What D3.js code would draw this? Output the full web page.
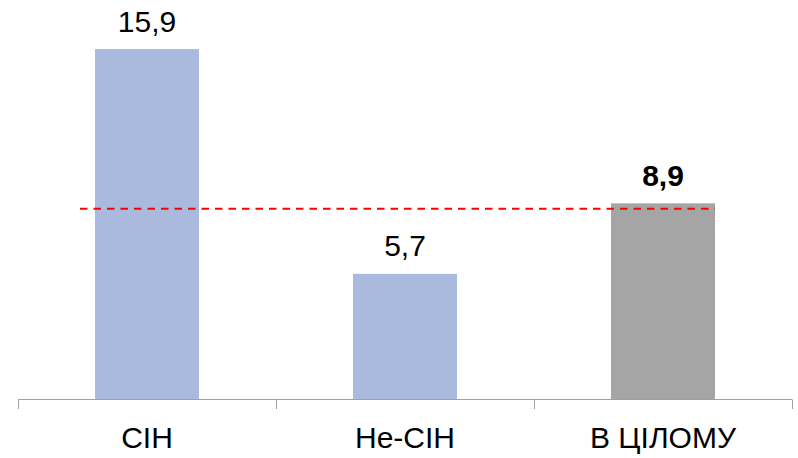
<!DOCTYPE html>
<html>
<head>
<meta charset="utf-8">
<script src="https://cdn.jsdelivr.net/npm/d3@7"></script>
<style>
  html, body { margin: 0; padding: 0; background: #fff; }
  svg { display: block; }
</style>
</head>
<body>
<div id="chart"></div>
<script>
const categories = ["СІН", "Не-СІН", "В ЦІЛОМУ"];
const values = [15.9, 5.7, 8.9];
const valueLabels = ["15,9", "5,7", "8,9"];
const referenceValue = 8.65;

const W = 798, H = 458;
const svg = d3.select("#chart").append("svg").attr("width", W).attr("height", H);

const x = d3.scaleBand().domain(categories).range([18, 792]).paddingInner(0).paddingOuter(0);
const barW = 104;
const y = d3.scaleLinear().domain([0, 16]).range([399.5, 399.5 - 16 * 22.04]);

const colors = ["#aab9de", "#aab9de", "#a5a5a5"];

svg.selectAll("rect.bar").data(values).enter().append("rect")
  .attr("x", (d, i) => x(categories[i]) + (x.bandwidth() - barW) / 2)
  .attr("y", d => y(d))
  .attr("width", barW)
  .attr("height", d => y(0) - y(d))
  .attr("fill", (d, i) => colors[i]);

// axis
const axisY = 399.5;
svg.append("line").attr("x1", 18).attr("x2", 792).attr("y1", axisY).attr("y2", axisY)
  .attr("stroke", "#a0a0a0").attr("stroke-width", 1);
const tickPos = categories.map(c => x(c)).concat([x.range()[1]]);
svg.selectAll("line.tick").data(tickPos).enter().append("line")
  .attr("x1", d => Math.round(d) + 0.5).attr("x2", d => Math.round(d) + 0.5)
  .attr("y1", axisY).attr("y2", 409)
  .attr("stroke", "#a0a0a0").attr("stroke-width", 1);

// category labels
svg.selectAll("text.cat").data(categories).enter().append("text")
  .attr("x", d => x(d) + x.bandwidth() / 2)
  .attr("y", 448)
  .attr("text-anchor", "middle")
  .attr("font-family", "Liberation Sans, Arial, sans-serif")
  .attr("font-size", 30)
  .attr("fill", "#000")
  .text(d => d);

// reference line
svg.append("line")
  .attr("x1", x(categories[0]) + 62)
  .attr("x2", x(categories[2]) + (x.bandwidth() + barW) / 2)
  .attr("y1", y(referenceValue)).attr("y2", y(referenceValue))
  .attr("stroke", "#ff0000").attr("stroke-width", 2)
  .attr("stroke-dasharray", "7.5,6");

// value labels
svg.selectAll("text.val").data(values).enter().append("text")
  .attr("x", (d, i) => x(categories[i]) + x.bandwidth() / 2)
  .attr("y", d => y(d) - 17.5)
  .attr("text-anchor", "middle")
  .attr("font-family", "Liberation Sans, Arial, sans-serif")
  .attr("font-size", 30)
  .attr("font-weight", (d, i) => i === 2 ? "bold" : "normal")
  .attr("fill", "#000")
  .text((d, i) => valueLabels[i]);
</script>
</body>
</html>
